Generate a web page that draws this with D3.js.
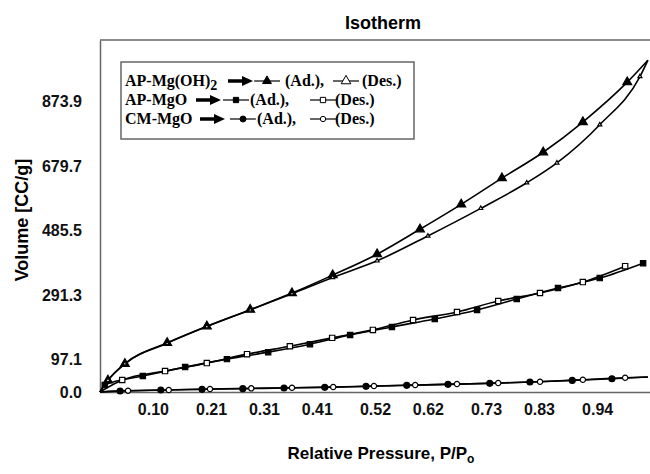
<!DOCTYPE html>
<html>
<head>
<meta charset="utf-8">
<script src="https://cdn.jsdelivr.net/npm/d3@7"></script>
<style>
  body { margin: 0; background: #fff; }
  svg { display: block; }
  .tick text { font-family: "Liberation Sans", Arial, sans-serif; font-weight: bold; font-size: 16px; fill: #111; }
</style>
</head>
<body>
<div id="chart"></div>
<script>
var width = 650,
    height = 474;

// AP-Mg(OH)2
var mgohAdX = [0, 0.015, 0.047, 0.127, 0.202, 0.284, 0.363, 0.44, 0.524, 0.605, 0.683, 0.76, 0.838, 0.913, 0.997, 1.036];
var mgohAdY = [0, 35, 85, 148, 198, 248, 298, 352, 415, 490, 565, 644, 722, 813, 933, 999];
var mgohDesX = [0, 0.015, 0.047, 0.127, 0.202, 0.284, 0.363, 0.44, 0.524, 0.62, 0.72, 0.807, 0.864, 0.945, 1.021, 1.036];
var mgohDesY = [0, 35, 85, 147, 197, 247, 296, 345, 395, 470, 553, 630, 690, 805, 950, 999];

// AP-MgO
var mgoAdX = [0, 0.009, 0.081, 0.161, 0.240, 0.318, 0.397, 0.473, 0.552, 0.633, 0.713, 0.788, 0.866, 0.945, 1.027];
var mgoAdY = [0, 21, 48, 75, 99, 120, 144, 172, 196, 220, 247, 280, 313, 343, 388];
var mgoDesX = [0, 0.042, 0.123, 0.202, 0.278, 0.359, 0.439, 0.516, 0.592, 0.675, 0.753, 0.832, 0.913, 0.993];
var mgoDesY = [0, 36, 63, 87, 114, 138, 163, 187, 217, 241, 274, 298, 331, 379];

// CM-MgO
var cmAdX = [0, 0.038, 0.115, 0.193, 0.270, 0.348, 0.425, 0.503, 0.580, 0.658, 0.737, 0.813, 0.893, 0.968, 1.036];
var cmAdY = [0, 3, 6, 8, 10, 12, 14, 17, 20, 23, 26, 30, 35, 40, 45];
var cmDesX = [0, 0.053, 0.130, 0.208, 0.286, 0.363, 0.441, 0.518, 0.596, 0.675, 0.753, 0.832, 0.913, 0.993, 1.036];
var cmDesY = [0, 4, 6, 9, 11, 13, 15, 18, 21, 24, 27, 31, 37, 43, 45];

var xTicks = [0.10, 0.21, 0.31, 0.41, 0.52, 0.62, 0.73, 0.83, 0.94];
var yTicks = [0.0, 97.1, 291.3, 485.5, 679.7, 873.9];

var margin = {left: 100, right: 0, top: 40, bottom: 82};

var x = d3.scaleLinear().domain([0, 1.04]).range([margin.left, width - margin.right]);
var y = d3.scaleLinear().domain([0, 1060]).range([height - margin.bottom, margin.top]);

var svg = d3.select('#chart')
    .append('svg')
    .attr('width', width)
    .attr('height', height);

// frame lines
svg.append('line')
    .attr('x1', x.range()[0]).attr('x2', x.range()[1])
    .attr('y1', margin.top).attr('y2', margin.top)
    .attr('stroke', '#666').attr('stroke-width', 1.5);

var xAxis = svg.append('g')
    .attr('transform', 'translate(0,' + y(0) + ')')
    .call(d3.axisBottom(x).tickValues(xTicks).tickSize(0).tickPadding(12).tickFormat(d3.format('.2f')));
xAxis.select('.domain').attr('stroke', '#666').attr('stroke-width', 1.5);

var yAxis = svg.append('g')
    .attr('transform', 'translate(' + margin.left + ',0)')
    .call(d3.axisLeft(y).tickValues(yTicks).tickSize(0).tickPadding(18).tickFormat(d3.format('.1f')));
yAxis.select('.domain').attr('stroke', '#666').attr('stroke-width', 1.5);

// titles
svg.append('text')
    .attr('x', 383).attr('y', 29)
    .attr('text-anchor', 'middle')
    .style('font-family', '"Liberation Sans", Arial, sans-serif')
    .style('font-weight', 'bold').style('font-size', '18px')
    .text('Isotherm');

var xl = svg.append('text')
    .attr('x', 381).attr('y', 459)
    .attr('text-anchor', 'middle')
    .style('font-family', '"Liberation Sans", Arial, sans-serif')
    .style('font-weight', 'bold').style('font-size', '17px');
xl.append('tspan').text('Relative Pressure, P/P');
xl.append('tspan').attr('dy', 4).style('font-size', '12px').text('o');

svg.append('text')
    .attr('transform', 'translate(28,220) rotate(-90)')
    .attr('text-anchor', 'middle')
    .style('font-family', '"Liberation Sans", Arial, sans-serif')
    .style('font-weight', 'bold').style('font-size', '18px')
    .text('Volume [CC/g]');

// series
function zip(xs, ys) {
    return xs.map(function (d, i) { return {x: d, y: ys[i]}; });
}

var series = [
    {data: zip(mgohAdX, mgohAdY), shape: d3.symbolTriangle, size: 34, fill: '#000'},
    {data: zip(mgohDesX, mgohDesY), shape: d3.symbolTriangle, size: 7, fill: '#fff'},
    {data: zip(mgoAdX, mgoAdY), shape: d3.symbolSquare, size: 28, fill: '#000'},
    {data: zip(mgoDesX, mgoDesY), shape: d3.symbolSquare, size: 28, fill: '#fff'},
    {data: zip(cmAdX, cmAdY), shape: d3.symbolCircle, size: 28, fill: '#000'},
    {data: zip(cmDesX, cmDesY), shape: d3.symbolCircle, size: 22, fill: '#fff'}
];

var line = d3.line()
    .x(function (d) { return x(d.x); })
    .y(function (d) { return y(d.y); })
    .curve(d3.curveMonotoneX);

series.forEach(function (s) {
    svg.append('path')
        .datum(s.data)
        .attr('d', line)
        .attr('fill', 'none')
        .attr('stroke', '#000')
        .attr('stroke-width', 1.6);
});

series.forEach(function (s) {
    svg.selectAll(null)
        .data(s.data.filter(function (d) { return d.x > 0 && d.x < 1.03; }))
        .enter()
        .append('path')
        .attr('transform', function (d) { return 'translate(' + x(d.x) + ',' + y(d.y) + ')'; })
        .attr('d', d3.symbol().type(s.shape).size(s.size))
        .attr('fill', s.fill)
        .attr('stroke', '#000')
        .attr('stroke-width', 1.2);
});

// legend
var legend = svg.append('g');
legend.append('rect')
    .attr('x', 121).attr('y', 62)
    .attr('width', 293).attr('height', 77)
    .attr('fill', '#fff')
    .attr('stroke', '#666')
    .attr('stroke-width', 1.5);

var legendRows = [
    {name: 'AP-Mg(OH)', sub: '2', arrow: 228, ad: 254, adText: 285, des: 333, desText: 362, y: 86, s: 0},
    {name: 'AP-MgO', sub: '', arrow: 196, ad: 223, adText: 250, des: 310, desText: 335, y: 105, s: 2},
    {name: 'CM-MgO', sub: '', arrow: 200, ad: 230, adText: 257, des: 310, desText: 335, y: 124, s: 4}
];

var serif = '"Liberation Serif", "Times New Roman", serif';

legendRows.forEach(function (r) {
    var t = legend.append('text')
        .attr('x', 125).attr('y', r.y)
        .style('font-family', serif).style('font-weight', 'bold').style('font-size', '16px');
    t.append('tspan').text(r.name);
    if (r.sub) t.append('tspan').attr('dy', 4).style('font-size', '14px').text(r.sub);

    // thick arrow
    legend.append('line')
        .attr('x1', r.arrow).attr('x2', r.arrow + 16)
        .attr('y1', r.y - 5).attr('y2', r.y - 5)
        .attr('stroke', '#000').attr('stroke-width', 3.5);
    legend.append('path')
        .attr('d', 'M' + (r.arrow + 14) + ',' + (r.y - 10) + 'L' + (r.arrow + 25) + ',' + (r.y - 5) + 'L' + (r.arrow + 14) + ',' + r.y + 'Z')
        .attr('fill', '#000');

    [[r.ad, series[r.s]], [r.des, series[r.s + 1]]].forEach(function (m, i) {
        legend.append('line')
            .attr('x1', m[0]).attr('x2', m[0] + 26)
            .attr('y1', r.y - 5).attr('y2', r.y - 5)
            .attr('stroke', '#000').attr('stroke-width', 1.2);
        legend.append('path')
            .attr('transform', 'translate(' + (m[0] + 13) + ',' + (r.y - 5) + ')')
            .attr('d', d3.symbol().type(m[1].shape).size(i === 0 ? m[1].size : (r.s === 0 ? 40 : m[1].size)))
            .attr('fill', m[1].fill)
            .attr('stroke', '#000')
            .attr('stroke-width', 1);
    });

    legend.append('text')
        .attr('x', r.adText).attr('y', r.y)
        .style('font-family', serif).style('font-weight', 'bold').style('font-size', '16px')
        .text('(Ad.),');
    legend.append('text')
        .attr('x', r.desText).attr('y', r.y)
        .style('font-family', serif).style('font-weight', 'bold').style('font-size', '16px')
        .text('(Des.)');
});
</script>
</body>
</html>
